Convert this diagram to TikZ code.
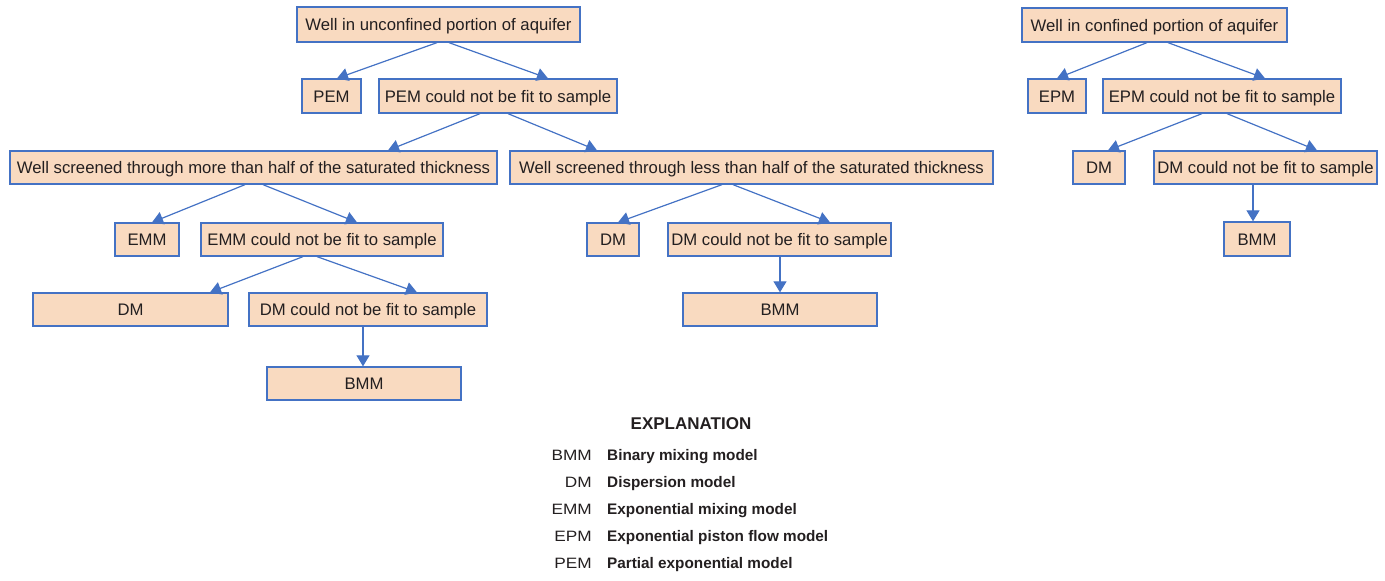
\documentclass[tikz,border=0pt]{standalone}
\usepackage{fontspec}
\setmainfont{Liberation Sans}
\newfontfamily\abbrfont[FakeStretch=1.15]{Liberation Sans}
\usetikzlibrary{arrows.meta,calc}
\definecolor{boxfill}{HTML}{F9DAC0}
\definecolor{boxline}{HTML}{4472C4}
\definecolor{txt}{HTML}{231F20}
\begin{document}
\begin{tikzpicture}[x=1pt,y=-1pt,
  box/.style={draw=boxline, fill=boxfill, line width=1.3pt, inner sep=0pt, text=txt,
    text height=12pt, text depth=0pt,
    font=\fontsize{16.7}{20}\selectfont},
  arr/.style={draw=boxline, line width=1.2pt, -{Triangle[length=11pt,width=13pt]}},
  abbr/.style={anchor=east, inner sep=0pt, text=txt, text height=10.7pt, text depth=0pt,
    font=\abbrfont\fontsize{15}{18}\selectfont},
  desc/.style={anchor=west, inner sep=0pt, text=txt, text height=11pt, text depth=0pt,
    font=\bfseries\fontsize{15.3}{18}\selectfont}]
\useasboundingbox (0,0) rectangle (1385,581);

% left tree
\node[box, minimum width=283pt, minimum height=35pt] (A) at (438.5,24.5) {Well in unconfined portion of aquifer};
\node[box, minimum width=59pt, minimum height=34pt] (B) at (331.5,96) {PEM};
\node[box, minimum width=238pt, minimum height=34pt] (C) at (498,96) {PEM could not be fit to sample};
\node[box, minimum width=487pt, minimum height=33pt] (D) at (253.5,167.5) {Well screened through more than half of the saturated thickness};
\node[box, minimum width=483pt, minimum height=33pt] (E) at (751.5,167.5) {Well screened through less than half of the saturated thickness};
\node[box, minimum width=64pt, minimum height=33pt] (F) at (147,239.5) {EMM};
\node[box, minimum width=242pt, minimum height=33pt] (G) at (322,239.5) {EMM could not be fit to sample};
\node[box, minimum width=195pt, minimum height=33pt] (H) at (130.5,309.5) {DM};
\node[box, minimum width=238pt, minimum height=33pt] (I) at (368,309.5) {DM could not be fit to sample};
\node[box, minimum width=194pt, minimum height=33pt] (J) at (364,383.5) {BMM};
\node[box, minimum width=52pt, minimum height=33pt] (K) at (613,239.5) {DM};
\node[box, minimum width=223pt, minimum height=33pt] (L) at (779.5,239.5) {DM could not be fit to sample};
\node[box, minimum width=194pt, minimum height=33pt] (M) at (780,309.5) {BMM};

% right tree
\node[box, minimum width=265pt, minimum height=34pt] (N) at (1154.5,25) {Well in confined portion of aquifer};
\node[box, minimum width=58pt, minimum height=34pt] (O) at (1057,96) {EPM};
\node[box, minimum width=238pt, minimum height=34pt] (P) at (1222,96) {EPM could not be fit to sample};
\node[box, minimum width=52pt, minimum height=33pt] (Q) at (1099,167.5) {DM};
\node[box, minimum width=223pt, minimum height=33pt] (R) at (1265.5,167.5) {DM could not be fit to sample};
\node[box, minimum width=66pt, minimum height=34pt] (S) at (1257,239) {BMM};

% connectors
\draw[arr] ([xshift=-1.5pt]A.south) -- ([xshift=5.5pt]B.north);
\draw[arr] ([xshift=10.5pt]A.south) -- ([xshift=50pt]C.north);
\draw[arr] ([xshift=-18pt]C.south) -- ([xshift=134.5pt]D.north);
\draw[arr] ([xshift=10pt]C.south) -- ([xshift=-154.5pt]E.north);
\draw[arr] ([xshift=-8.5pt]D.south) -- ([xshift=5pt]F.north);
\draw[arr] ([xshift=9.5pt]D.south) -- ([xshift=35pt]G.north);
\draw[arr] ([xshift=-19pt]G.south) -- ([xshift=79.5pt]H.north);
\draw[arr] ([xshift=-5pt]G.south) -- ([xshift=49pt]I.north);
\draw[arr] ([xshift=-5pt]I.south) -- ([xshift=-1pt]J.north);
\draw[arr] ([xshift=-29.5pt]E.south) -- ([xshift=5pt]K.north);
\draw[arr] ([xshift=-18.5pt]E.south) -- ([xshift=50.5pt]L.north);
\draw[arr] ([xshift=0.5pt]L.south) -- (M.north);
\draw[arr] ([xshift=-7.5pt]N.south) -- (O.north);
\draw[arr] ([xshift=13.5pt]N.south) -- ([xshift=43pt]P.north);
\draw[arr] ([xshift=-20pt]P.south) -- ([xshift=9pt]Q.north);
\draw[arr] ([xshift=5pt]P.south) -- ([xshift=51.5pt]R.north);
\draw[arr] ([xshift=-12.5pt]R.south) -- ([xshift=-4pt]S.north);

% legend
\node[inner sep=0pt, text=txt, text height=12.2pt, text depth=0pt, font=\bfseries\fontsize{17}{20}\selectfont] (expl) at (691,423) {EXPLANATION};
\node[abbr] (a1) at (592,455) {BMM};
\node[desc] (d1) at (607,455) {Binary mixing model};
\node[abbr] (a2) at (592,482) {DM};
\node[desc] (d2) at (607,482) {Dispersion model};
\node[abbr] (a3) at (592,509) {EMM};
\node[desc] (d3) at (607,509) {Exponential mixing model};
\node[abbr] (a4) at (592,536) {EPM};
\node[desc] (d4) at (607,536) {Exponential piston flow model};
\node[abbr] (a5) at (592,563) {PEM};
\node[desc] (d5) at (607,563) {Partial exponential model};
\end{tikzpicture}
\end{document}
